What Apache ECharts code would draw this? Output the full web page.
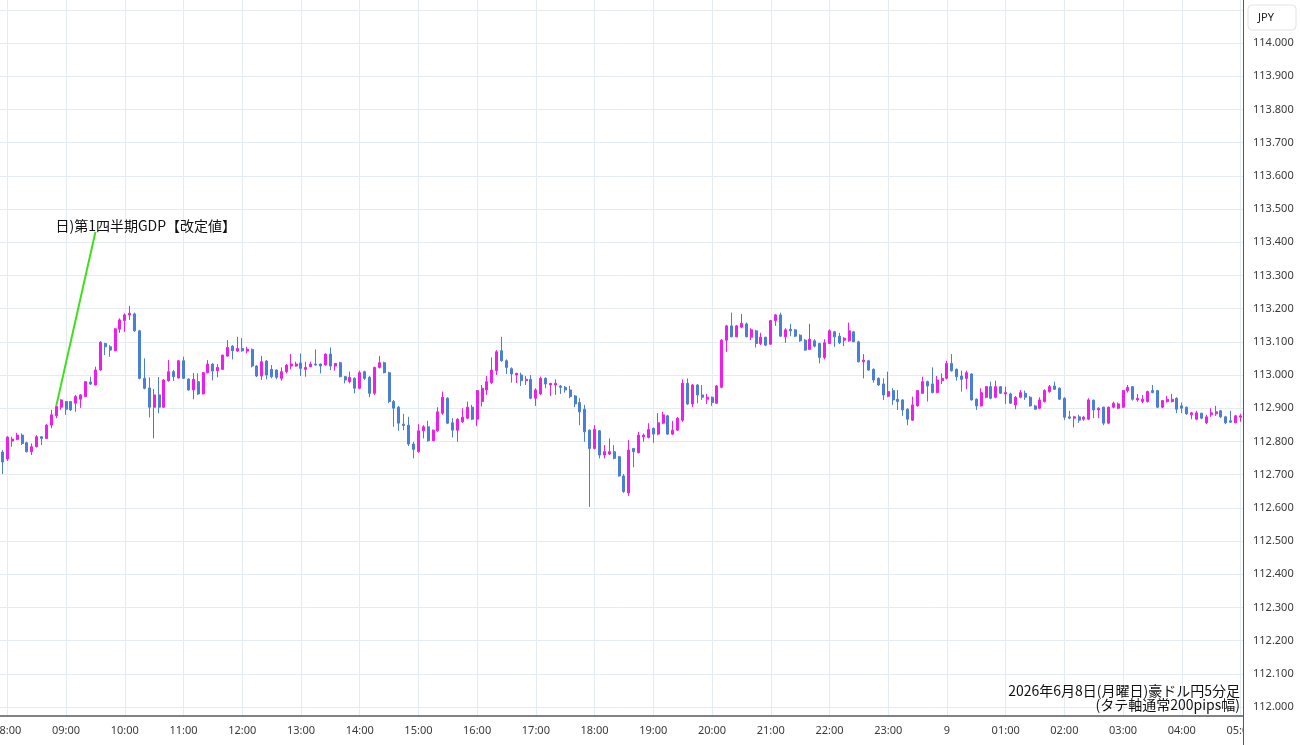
<!DOCTYPE html>
<html>
<head>
<meta charset="utf-8">
<script src="https://cdn.jsdelivr.net/npm/echarts@6/dist/echarts.min.js"></script>
<style>
html,body{margin:0;padding:0;background:#ffffff;}
#chart{width:1300px;height:745px;}
</style>
</head>
<body>
<div id="chart"></div>
<script>
// ---- data ----
const startTime = '07:55';
const stepMinutes = 5;
const barCount = 254;
const dayLabel = '9';
const currencyLabel = 'JPY';
const annotationText = '日)第1四半期GDP【改定値】';
const annotationFrom = ['08:50', 112.907];
const annotationTo = ['09:30', 113.431];
const footnoteLines = ['2026年6月8日(月曜日)豪ドル円5分足', '(タテ軸通常200pips幅)'];

const yTickValues = [112.0,112.1,112.2,112.3,112.4,112.5,112.6,112.7,112.8,112.9,113.0,113.1,113.2,113.3,113.4,113.5,113.6,113.7,113.8,113.9,114.0,114.1];
const yLabelValues = [112.0,112.1,112.2,112.3,112.4,112.5,112.6,112.7,112.8,112.9,113.0,113.1,113.2,113.3,113.4,113.5,113.6,113.7,113.8,113.9,114.0];
const yMin = 111.973;
const yMax = 114.1295;

// [open, close, low, high]
const candles = [
[112.768,112.738,112.702,112.774],[112.747,112.813,112.741,112.816],[112.801,112.807,112.784,112.814],[112.806,112.819,112.804,112.826],
[112.819,112.794,112.789,112.824],[112.796,112.769,112.767,112.799],[112.769,112.784,112.759,112.794],[112.784,112.814,112.782,112.819],
[112.814,112.809,112.789,112.816],[112.809,112.849,112.807,112.852],[112.849,112.880,112.840,112.895],[112.877,112.905,112.870,112.907],
[112.903,112.925,112.895,112.927],[112.920,112.897,112.880,112.922],[112.920,112.895,112.892,112.922],[112.915,112.935,112.889,112.940],
[112.927,112.940,112.901,112.942],[112.935,112.980,112.934,112.982],[112.979,112.973,112.970,112.995],[112.970,113.015,112.969,113.025],
[113.015,113.099,113.013,113.102],[113.095,113.085,113.060,113.097],[113.085,113.075,113.055,113.090],[113.073,113.139,113.072,113.142],
[113.138,113.166,113.127,113.171],[113.164,113.181,113.130,113.186],[113.181,113.186,113.166,113.208],[113.184,113.133,113.130,113.188],
[113.133,112.990,112.987,113.136],[112.990,112.960,112.957,113.050],[112.961,112.903,112.872,112.993],[112.903,112.940,112.809,112.958],
[112.940,112.903,112.885,112.994],[112.903,112.985,112.901,112.988],[112.983,113.010,112.980,113.045],[113.010,112.995,112.982,113.015],
[112.991,113.043,112.990,113.045],[113.043,112.990,112.988,113.055],[112.988,112.955,112.953,112.990],[112.955,112.987,112.927,113.006],
[112.980,112.943,112.940,113.005],[112.943,113.007,112.942,113.009],[113.007,113.033,113.005,113.045],[113.033,113.012,112.984,113.035],
[113.013,113.023,112.993,113.033],[113.017,113.060,113.015,113.061],[113.057,113.083,113.055,113.105],[113.087,113.073,113.047,113.090],
[113.072,113.080,113.070,113.115],[113.080,113.073,113.070,113.111],[113.072,113.078,113.065,113.085],[113.077,113.027,113.023,113.080],
[113.027,112.997,112.994,113.030],[112.997,113.040,112.985,113.057],[113.042,113.000,112.987,113.045],[113.017,112.995,112.990,113.030],
[113.015,112.993,112.987,113.017],[112.990,113.010,112.983,113.023],[113.010,113.030,113.005,113.033],[113.027,113.033,113.017,113.063],
[113.027,113.033,113.025,113.040],[113.036,113.020,112.997,113.065],[113.017,113.023,112.995,113.040],[113.025,113.033,113.023,113.040],
[113.033,113.030,113.029,113.077],[113.033,113.027,113.005,113.035],[113.030,113.063,113.029,113.065],[113.063,113.027,113.015,113.083],
[113.027,113.035,113.013,113.036],[113.037,112.995,112.993,113.040],[112.995,112.985,112.975,112.997],[112.980,112.993,112.975,113.010],
[112.990,112.960,112.945,112.993],[112.960,113.007,112.957,113.013],[113.010,112.990,112.985,113.013],[112.993,112.945,112.933,112.997],
[112.945,113.023,112.940,113.025],[113.023,113.037,113.020,113.057],[113.037,113.007,113.005,113.040],[113.007,112.920,112.915,113.010],
[112.920,112.900,112.844,112.925],[112.903,112.855,112.832,112.907],[112.852,112.848,112.834,112.883],[112.849,112.792,112.786,112.874],
[112.792,112.776,112.749,112.799],[112.769,112.832,112.766,112.852],[112.832,112.844,112.809,112.849],[112.844,112.802,112.799,112.862],
[112.802,112.834,112.801,112.836],[112.832,112.889,112.829,112.903],[112.885,112.933,112.880,112.950],[112.930,112.855,112.852,112.933],
[112.856,112.834,112.812,112.870],[112.834,112.867,112.799,112.870],[112.859,112.873,112.856,112.900],[112.870,112.903,112.867,112.920],
[112.903,112.867,112.864,112.910],[112.867,112.953,112.846,112.955],[112.920,112.960,112.905,112.970],[112.955,112.980,112.940,112.997],
[112.977,113.015,112.973,113.053],[113.013,113.070,113.000,113.075],[113.073,113.043,113.040,113.115],[113.043,113.023,113.003,113.047],
[113.019,113.003,112.977,113.023],[113.000,113.005,112.976,113.007],[113.000,112.983,112.967,113.007],[112.983,112.987,112.970,112.997],
[112.987,112.930,112.927,113.000],[112.930,112.955,112.907,112.960],[112.943,112.990,112.940,112.995],[112.990,112.973,112.960,112.993],
[112.970,112.975,112.937,112.976],[112.970,112.975,112.940,112.987],[112.967,112.963,112.943,112.970],[112.963,112.955,112.947,112.967],
[112.955,112.935,112.930,112.967],[112.937,112.913,112.903,112.940],[112.917,112.889,112.849,112.930],[112.897,112.829,112.799,112.910],
[112.834,112.779,112.603,112.836],[112.779,112.836,112.776,112.849],[112.832,112.759,112.749,112.834],[112.759,112.769,112.749,112.789],
[112.762,112.769,112.759,112.809],[112.769,112.749,112.746,112.789],[112.754,112.696,112.694,112.756],[112.696,112.649,112.645,112.702],
[112.645,112.774,112.636,112.804],[112.779,112.769,112.722,112.780],[112.766,112.819,112.764,112.829],[112.814,112.819,112.799,112.824],
[112.812,112.836,112.809,112.855],[112.839,112.822,112.796,112.842],[112.822,112.856,112.819,112.885],[112.855,112.880,112.852,112.889],
[112.877,112.822,112.820,112.880],[112.822,112.834,112.819,112.862],[112.834,112.870,112.832,112.874],[112.864,112.975,112.859,112.987],
[112.975,112.913,112.910,112.990],[112.913,112.970,112.903,112.973],[112.970,112.940,112.915,112.973],[112.940,112.933,112.925,112.970],
[112.927,112.933,112.913,112.943],[112.933,112.917,112.907,112.935],[112.915,112.967,112.913,112.970],[112.963,113.105,112.960,113.108],
[113.105,113.148,113.070,113.151],[113.148,113.115,113.114,113.188],[113.115,113.148,113.114,113.151],[113.144,113.156,113.141,113.184],
[113.154,113.115,113.114,113.158],[113.114,113.136,113.105,113.141],[113.133,113.095,113.083,113.136],[113.095,113.114,113.090,113.127],
[113.114,113.090,113.087,113.115],[113.093,113.164,113.091,113.166],[113.164,113.181,113.148,113.184],[113.181,113.117,113.115,113.188],
[113.115,113.136,113.097,113.141],[113.138,113.133,113.117,113.154],[113.136,113.117,113.114,113.138],[113.120,113.103,113.100,113.123],
[113.105,113.075,113.073,113.108],[113.077,113.108,113.075,113.154],[113.103,113.087,113.083,113.108],[113.095,113.053,113.035,113.097],
[113.053,113.097,113.047,113.108],[113.095,113.133,113.093,113.138],[113.130,113.115,113.085,113.133],[113.117,113.097,113.093,113.127],
[113.105,113.111,113.087,113.114],[113.103,113.133,113.100,113.158],[113.130,113.100,113.099,113.133],[113.100,113.040,113.038,113.103],
[113.040,113.045,112.990,113.063],[113.043,113.015,113.013,113.045],[113.017,112.985,112.977,113.020],[112.990,112.970,112.967,112.993],
[112.973,112.940,112.925,112.990],[112.936,112.950,112.933,113.010],[112.953,112.925,112.910,112.960],[112.927,112.920,112.895,112.955],
[112.925,112.895,112.877,112.927],[112.897,112.867,112.849,112.900],[112.864,112.910,112.862,112.935],[112.907,112.953,112.905,112.955],
[112.945,112.980,112.943,112.995],[112.980,112.967,112.920,112.983],[112.973,112.947,112.945,113.023],[112.947,112.985,112.945,112.997],
[112.983,112.990,112.973,113.005],[112.990,113.035,112.987,113.043],[113.035,113.013,113.010,113.063],[113.017,112.995,112.983,113.020],
[112.997,112.987,112.950,113.013],[112.990,113.007,112.957,113.013],[113.003,112.925,112.923,113.005],[112.927,112.907,112.895,112.930],
[112.907,112.947,112.905,112.960],[112.933,112.965,112.930,112.967],[112.965,112.930,112.927,112.980],[112.933,112.965,112.930,112.983],
[112.965,112.945,112.943,112.967],[112.943,112.947,112.913,112.965],[112.943,112.915,112.913,112.947],[112.910,112.933,112.897,112.937],
[112.933,112.947,112.930,112.955],[112.945,112.933,112.925,112.953],[112.933,112.907,112.905,112.937],[112.907,112.897,112.895,112.910],
[112.900,112.925,112.897,112.933],[112.920,112.953,112.917,112.957],[112.950,112.965,112.947,112.970],[112.967,112.957,112.955,112.980],
[112.960,112.927,112.925,112.963],[112.930,112.873,112.864,112.933],[112.874,112.870,112.867,112.892],[112.870,112.874,112.842,112.877],
[112.874,112.864,112.856,112.880],[112.867,112.873,112.862,112.877],[112.867,112.925,112.864,112.930],[112.924,112.895,112.870,112.926],
[112.895,112.900,112.870,112.903],[112.903,112.855,112.849,112.905],[112.855,112.903,112.852,112.905],[112.903,112.915,112.900,112.920],
[112.900,112.913,112.897,112.917],[112.903,112.953,112.901,112.955],[112.953,112.963,112.947,112.970],[112.965,112.927,112.923,112.967],
[112.925,112.930,112.920,112.943],[112.920,112.927,112.915,112.940],[112.920,112.950,112.917,112.953],[112.953,112.947,112.945,112.970],
[112.953,112.903,112.900,112.955],[112.903,112.923,112.900,112.925],[112.920,112.927,112.917,112.937],[112.920,112.927,112.917,112.943],
[112.930,112.897,112.885,112.933],[112.907,112.900,112.885,112.917],[112.903,112.883,112.880,112.905],[112.880,112.886,112.867,112.889],
[112.867,112.886,112.864,112.892],[112.885,112.870,112.867,112.886],[112.856,112.874,112.852,112.880],[112.880,112.886,112.874,112.900],
[112.883,112.889,112.877,112.907],[112.892,112.874,112.870,112.895],[112.874,112.856,112.852,112.877],[112.862,112.858,112.856,112.892],
[112.856,112.877,112.855,112.880],[112.873,112.877,112.859,112.883]
];

// time categories (5-minute bars)
const categories = (function () {
  const parts = startTime.split(':');
  let m = parseInt(parts[0], 10) * 60 + parseInt(parts[1], 10);
  const out = [];
  for (let i = 0; i < barCount; i++) {
    const h = Math.floor(m / 60) % 24, mm = m % 60;
    out.push((h < 10 ? '0' : '') + h + ':' + (mm < 10 ? '0' : '') + mm);
    m += stepMinutes;
  }
  return out;
})();

// ---- chart ----
const UP = '#ec1eec';
const DOWN = '#4a7fd5';
const GRID = '#e4ebf1';
const AXIS = '#5a5a5a';
const LABEL = '#3a3a3a';
const isHour = function (idx, val) { return val.slice(3) === '00'; };

const chart = echarts.init(document.getElementById('chart'), null, {renderer: 'canvas'});
chart.setOption({
  animation: false,
  backgroundColor: '#ffffff',
  grid: {left: 0, right: 57, top: 0, bottom: 29, containLabel: false, outerBoundsMode: 'none'},
  xAxis: {
    type: 'category',
    data: categories,
    boundaryGap: true,
    axisLine: {show: true, lineStyle: {color: AXIS, width: 1.5}},
    axisTick: {show: false, interval: isHour, alignWithLabel: true},
    axisLabel: {
      interval: isHour, color: LABEL, fontSize: 11, fontFamily: 'Noto Sans', margin: 9,
      hideOverlap: false,
      formatter: function (v) { return v === '00:00' ? dayLabel : v; }
    },
    splitLine: {show: true, interval: isHour, alignWithLabel: true, lineStyle: {color: GRID, width: 1}}
  },
  yAxis: {
    type: 'value',
    position: 'right',
    min: yMin,
    max: yMax,
    axisLine: {show: true, lineStyle: {color: AXIS, width: 1}},
    axisTick: {show: false, customValues: yTickValues},
    axisLabel: {
      customValues: yLabelValues, color: LABEL, fontSize: 11, fontFamily: 'Noto Sans', margin: 10,
      formatter: function (v) { return Number(v).toFixed(3); }
    },
    splitLine: {show: true, lineStyle: {color: GRID, width: 1}}
  },
  series: [{
    type: 'candlestick',
    data: candles,
    barWidth: 2.5,
    itemStyle: {color: UP, color0: DOWN, borderColor: UP, borderColor0: DOWN, borderWidth: 1},
    markLine: {
      silent: true,
      symbol: ['none', 'none'],
      label: {show: false},
      lineStyle: {color: '#3ee01a', width: 2, type: 'solid'},
      data: [[{coord: annotationFrom}, {coord: annotationTo}]]
    }
  }]
});

const endPx = chart.convertToPixel({seriesIndex: 0}, annotationTo);
chart.setOption({
  graphic: [
    {type: 'text', x: endPx[0] - 40, y: endPx[1] - 6, z: 50,
     style: {text: annotationText, fill: '#111', font: '14px "Noto Sans CJK JP"', textAlign: 'left', textVerticalAlign: 'middle'}},
    {type: 'rect', x: 1244, y: 718, z: 40, shape: {width: 56, height: 27}, style: {fill: '#ffffff'}},
    {type: 'line', z: 41, shape: {x1: 1243.5, y1: 716, x2: 1243.5, y2: 745}, style: {stroke: AXIS, lineWidth: 1}},
    {type: 'rect', x: 1248, y: 5, z: 40, shape: {width: 48, height: 25, r: 4}, style: {fill: '#ffffff', stroke: '#e2e2e2', lineWidth: 1}},
    {type: 'text', x: 1258, y: 17.5, z: 41, style: {text: currencyLabel, fill: '#222', font: '11px "Noto Sans"', textVerticalAlign: 'middle'}},
    {type: 'text', x: 1240, y: 691, z: 50,
     style: {text: footnoteLines[0], fill: '#111', font: '14px "Noto Sans CJK JP"', textAlign: 'right', textVerticalAlign: 'middle'}},
    {type: 'text', x: 1240, y: 705, z: 50,
     style: {text: footnoteLines[1], fill: '#111', font: '14px "Noto Sans CJK JP"', textAlign: 'right', textVerticalAlign: 'middle'}}
  ]
});
</script>
</body>
</html>
